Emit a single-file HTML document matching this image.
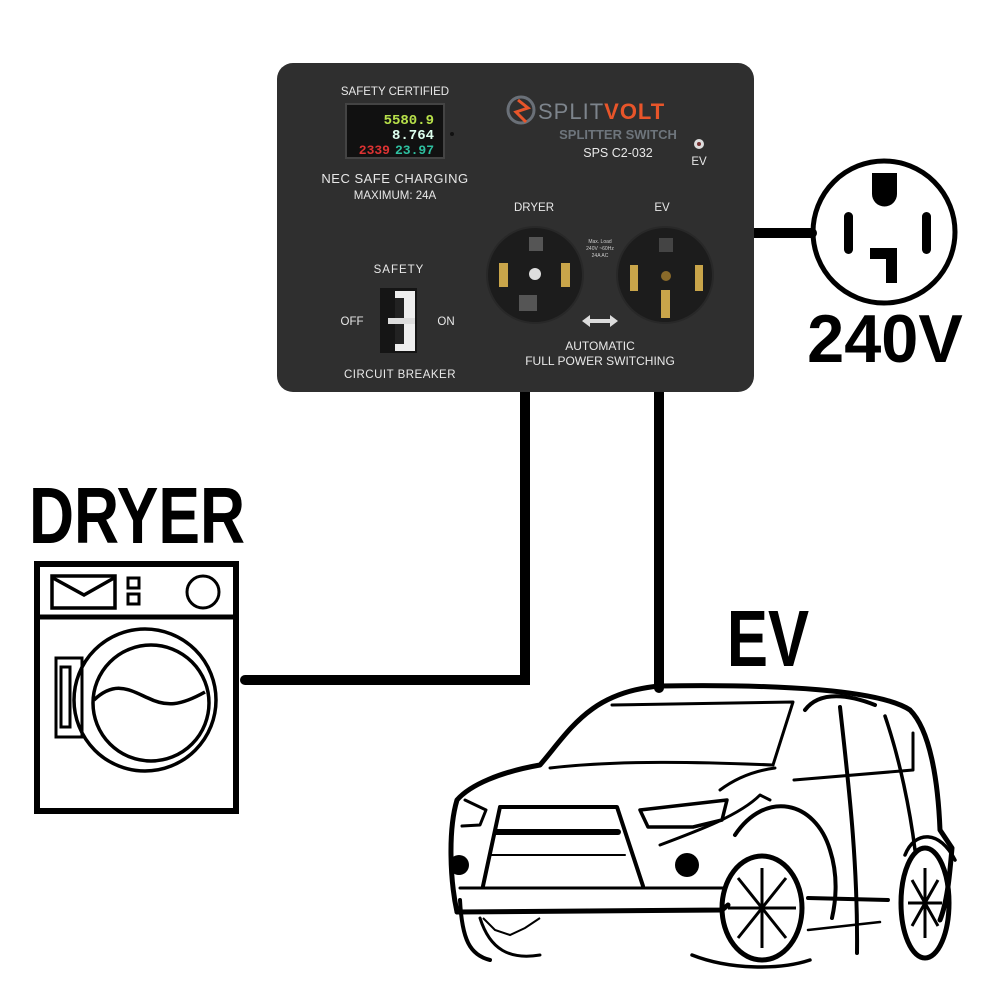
<!DOCTYPE html>
<html><head><meta charset="utf-8"><style>
html,body{margin:0;padding:0;background:#fff;width:1000px;height:1000px;overflow:hidden}
svg{display:block}
</style></head><body>
<svg width="1000" height="1000" viewBox="0 0 1000 1000" xmlns="http://www.w3.org/2000/svg" font-family="Liberation Sans, sans-serif">
<g stroke="#000" stroke-width="10" stroke-linecap="round" fill="none">
<path d="M525 390 V680 H245"/>
<path d="M659 390 V688"/>
<path d="M750 233 H812"/>
</g>
<rect x="277" y="63" width="477" height="329" rx="16" fill="#2f2f2f"/>
<g fill="#e8e8e8" font-size="11.5" text-anchor="middle">
<text x="395" y="95">SAFETY CERTIFIED</text>
<text x="395" y="183" font-size="13" letter-spacing="0.5">NEC SAFE CHARGING</text>
<text x="395" y="199">MAXIMUM: 24A</text>
<text x="399" y="273" letter-spacing="1">SAFETY</text>
<text x="400" y="378" letter-spacing="0.5">CIRCUIT BREAKER</text>
<text x="352" y="325">OFF</text>
<text x="446" y="325">ON</text>
<text x="534" y="211">DRYER</text>
<text x="662" y="211">EV</text>
<text x="600" y="350" font-size="12">AUTOMATIC</text>
<text x="600" y="365" font-size="12">FULL POWER SWITCHING</text>
<text x="618" y="157" font-size="12.5">SPS C2-032</text>
<text x="699" y="165">EV</text>
</g>
<rect x="346" y="104" width="98" height="54" fill="#111" stroke="#444" stroke-width="2"/>
<g font-family="Liberation Mono, monospace" font-size="14" font-weight="bold" text-anchor="end">
<text x="434" y="124" fill="#b7e04a">5580.9</text>
<text x="434" y="139" fill="#dfe">8.764</text>
<text x="390" y="154" fill="#d33" font-size="13">2339</text>
<text x="434" y="154" fill="#2ec0a0" font-size="13">23.97</text>
</g>
<circle cx="452" cy="134" r="2" fill="#111"/>
<circle cx="521" cy="110" r="13" fill="none" stroke="#6a7078" stroke-width="3"/>
<path d="M518 100 L528 108 L516 112 L526 122" stroke="#e8552a" stroke-width="3" fill="none"/>
<text x="538" y="119" font-size="22" fill="#7d848c" letter-spacing="1">SPLIT<tspan fill="#e8552a" font-weight="bold">VOLT</tspan></text>
<text x="618" y="139" font-size="13" font-weight="bold" fill="#6e757c" text-anchor="middle">SPLITTER SWITCH</text>
<circle cx="699" cy="144" r="5" fill="#ddd"/><circle cx="699" cy="144" r="2" fill="#733"/>
<rect x="380" y="288" width="37" height="65" fill="#151515"/>
<rect x="395" y="291" width="20" height="60" fill="#eee"/>
<rect x="395" y="298" width="9" height="46" fill="#222"/>
<rect x="388" y="318" width="27" height="6" fill="#ddd"/>
<circle cx="535" cy="275" r="48" fill="#1c1c1c" stroke="#282828" stroke-width="2"/>
<rect x="529" y="237" width="14" height="14" fill="#555"/>
<rect x="499" y="263" width="9" height="24" fill="#c9a54a"/>
<rect x="561" y="263" width="9" height="24" fill="#c9a54a"/>
<circle cx="535" cy="274" r="6" fill="#ddd"/>
<rect x="519" y="295" width="18" height="16" fill="#555"/>
<circle cx="665" cy="275" r="48" fill="#1c1c1c" stroke="#282828" stroke-width="2"/>
<rect x="659" y="238" width="14" height="14" fill="#444"/>
<rect x="630" y="265" width="8" height="26" fill="#c9a54a"/>
<rect x="695" y="265" width="8" height="26" fill="#c9a54a"/>
<rect x="661" y="290" width="9" height="28" fill="#c9a54a"/>
<circle cx="666" cy="276" r="5" fill="#8a6a2a"/>
<g fill="#ccc" font-size="5" text-anchor="middle"><text x="600" y="243">Max. Load</text><text x="600" y="250">240V ~60Hz</text><text x="600" y="257">24A AC</text></g>
<path d="M582 321 L590 315 V319 H610 V315 L618 321 L610 327 V323 H590 V327 Z" fill="#ddd"/>
<circle cx="884" cy="232" r="71" fill="none" stroke="#000" stroke-width="5"/>
<path d="M872 173 H897 V194 A12.5 12.5 0 0 1 872 194 Z" fill="#000"/>
<rect x="844" y="212" width="9" height="42" rx="4.5" fill="#000"/>
<rect x="922" y="212" width="9" height="42" rx="4.5" fill="#000"/>
<path d="M870 248 H897 V283 H886 V259 H870 Z" fill="#000"/>
<text x="885" y="362" font-size="68" font-weight="bold" text-anchor="middle" transform="translate(885 0) scale(0.98 1) translate(-885 0)">240V</text>
<text x="137" y="543" font-size="80" font-weight="bold" text-anchor="middle" transform="translate(137 0) scale(0.78 1) translate(-137 0)">DRYER</text>
<text x="768" y="666" font-size="80" font-weight="bold" text-anchor="middle" transform="translate(768 0) scale(0.77 1) translate(-768 0)">EV</text>
<g fill="none" stroke="#000">
<rect x="37" y="564" width="199" height="247" stroke-width="6"/>
<line x1="37" y1="617" x2="236" y2="617" stroke-width="5"/>
<rect x="52" y="576" width="63" height="32" stroke-width="3.5"/>
<path d="M53 578 L84 595 L114 578" stroke-width="3.5"/>
<rect x="128" y="578" width="11" height="10" stroke-width="3"/>
<rect x="128" y="594" width="11" height="10" stroke-width="3"/>
<circle cx="203" cy="592" r="16" stroke-width="3"/>
<circle cx="145" cy="700" r="71" stroke-width="3.5"/>
<circle cx="151" cy="703" r="58" stroke-width="3.5"/>
<rect x="56" y="658" width="26" height="79" stroke-width="3"/>
<rect x="61" y="667" width="9" height="60" stroke-width="3"/>
<path d="M94 700 C115 680 130 690 148 698 C166 707 180 706 205 692" stroke-width="3.5"/>
</g>
<g fill="none" stroke="#000" stroke-width="5" stroke-linecap="round" stroke-linejoin="round">
<path d="M457 912 C450 880 448 830 457 800 C470 785 500 772 540 765 C570 730 590 692 660 686 C780 684 880 690 910 710 C930 730 938 780 940 830 L952 848 C950 870 948 900 940 920"/>
<path d="M457 912 L722 910 L728 905"/>
<path d="M460 888 L725 888" stroke-width="3"/>
<path d="M500 807 L617 807 L643 886 M500 807 L483 886" stroke-width="4"/>
<path d="M496 832 L618 832" stroke-width="6"/>
<path d="M490 855 L625 855" stroke-width="2"/>
<path d="M550 768 C620 760 700 762 773 765" stroke-width="3"/>
<path d="M612 705 L793 702 L773 765" stroke-width="3"/>
<path d="M640 810 L727 800 L722 820 L693 827 L648 827 Z" stroke-width="3.5"/>
<path d="M660 845 C700 830 740 815 760 795 L770 800" stroke-width="3"/>
<path d="M720 790 C740 775 760 770 775 768" stroke-width="3"/>
<path d="M465 800 L486 810 L480 825 L462 826" stroke-width="3"/>
<path d="M735 835 C765 790 815 800 830 850 C838 875 836 900 832 918" stroke-width="4"/>
<ellipse cx="762" cy="908" rx="40" ry="52" stroke-width="5"/>
<path d="M805 710 C820 690 850 695 875 705" stroke-width="4"/>
<path d="M840 707 C848 780 858 860 857 953" stroke-width="4"/>
<path d="M885 716 C900 760 910 810 915 850" stroke-width="3.5"/>
<path d="M794 780 L913 770 L913 733" stroke-width="3"/>
<path d="M808 898 L888 900" stroke-width="4"/>
<path d="M808 930 L880 922" stroke-width="2.5"/>
<ellipse cx="925" cy="903" rx="24" ry="55" stroke-width="5"/>
<path d="M905 855 C915 830 940 830 955 860" stroke-width="3.5"/>
<path d="M480 918 C490 950 510 960 540 955" stroke-width="3"/>
<path d="M460 900 C462 940 470 955 490 960" stroke-width="4"/>
<path d="M692 955 C730 970 780 970 810 960" stroke-width="3.5"/>
</g>
<circle cx="687" cy="865" r="12" fill="#000"/>
<circle cx="459" cy="865" r="10" fill="#000"/>
<g stroke="#000" stroke-width="3" fill="none">
<path d="M762 868 L762 948 M738 878 L786 938 M728 908 L796 908 M738 938 L786 878"/>
<path d="M925 868 L925 938 M912 880 L938 926 M908 903 L942 903 M912 926 L938 880"/>
<path d="M483 918 L495 930 L510 935 L525 928 L540 918" stroke-width="2"/>
</g>
</svg>
</body></html>
